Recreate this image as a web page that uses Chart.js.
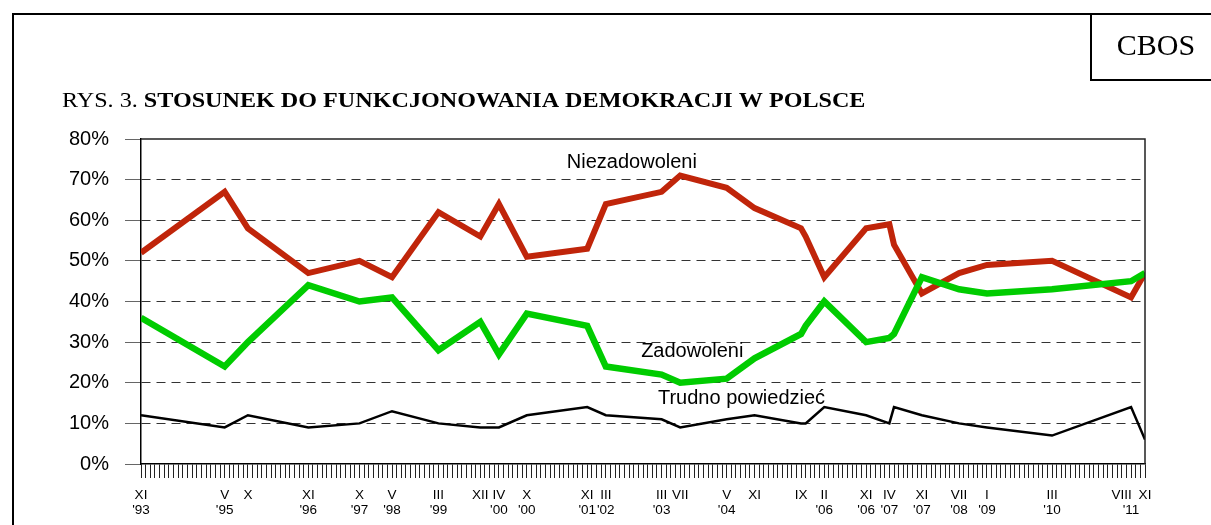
<!DOCTYPE html>
<html>
<head>
<meta charset="utf-8">
<script src="https://cdn.jsdelivr.net/npm/chart.js@4.4.1/dist/chart.umd.min.js"></script>
<style>
  html, body { margin: 0; padding: 0; background: #fff; }
  #wrap { width: 1211px; height: 525px; position: relative; }
</style>
</head>
<body>
<div id="wrap"><canvas id="demokracjaChart"></canvas></div>
<script>
// survey dates as months counted from XI 1993 (= 0)
const surveyMonths = [0, 18, 23, 36, 47, 54, 64, 73, 77, 83, 96, 100, 112, 116, 126, 132, 142, 143, 147, 156, 161, 162, 168, 176, 182, 196, 213, 216];

const niezadowoleni = [52, 67, 58, 47, 50, 46, 62, 56, 64, 51, 53, 64, 67, 71, 68, 63, 58, 56, 46, 58, 59, 54, 42, 47, 49, 50, 41, 47];
const zadowoleni    = [36, 24, 30, 44, 40, 41, 28, 35, 27, 37, 34, 24, 22, 20, 21, 26, 32, 34, 40, 30, 31, 32, 46, 43, 42, 43, 45, 47];
const trudno        = [12,  9, 12,  9, 10, 13, 10,  9,  9, 12, 14, 12, 11,  9, 11, 12, 10, 10, 14, 12, 10, 14, 12, 10,  9,  7, 14,  6];

// x axis labels (month index -> month / year)
const tickMonths = [0, 18, 23, 36, 47, 54, 64, 73, 77, 83, 96, 100, 112, 116, 126, 132, 142, 147, 156, 161, 168, 176, 182, 196, 213, 216];
const tickMonthNames = ['XI', 'V', 'X', 'XI', 'X', 'V', 'III', 'XII', 'IV', 'X', 'XI', 'III', 'III', 'VII', 'V', 'XI', 'IX', 'II', 'XI', 'IV', 'XI', 'VII', 'I', 'III', 'VIII     ', 'XI'];
const tickYears = ["'93", "'95", '', "'96", "'97", "'98", "'99", '', "'00", "'00", "'01", "'02", "'03", '', "'04", '', '', "'06", "'06", "'07", "'07", "'08", "'09", "'10", "'11", ''];

const seriesNames = ['Niezadowoleni', 'Zadowoleni', 'Trudno powiedzieć'];
const seriesLabelAt = [[105.6, 74.3], [118.6, 27.6], [129.2, 16.2]];

const toPoints = (vals) => vals.map((v, i) => ({ x: surveyMonths[i], y: v }));

const SANS = '"Liberation Sans", Arial, sans-serif';
const SERIF = '"Liberation Serif", "Times New Roman", serif';

const decorations = {
    id: 'decorations',
    beforeDraw(chart) {
        const ctx = chart.ctx;
        ctx.save();
        ctx.fillStyle = '#fff';
        ctx.fillRect(0, 0, chart.width, chart.height);
        ctx.restore();
    },
    afterDraw(chart) {
        const { ctx, chartArea: a, scales: { x, y } } = chart;
        ctx.save();
        // outer frame + CBOS box
        ctx.strokeStyle = '#000';
        ctx.lineWidth = 2;
        ctx.beginPath();
        ctx.moveTo(13, chart.height);
        ctx.lineTo(13, 14);
        ctx.lineTo(chart.width, 14);
        ctx.moveTo(1091, 14);
        ctx.lineTo(1091, 80);
        ctx.lineTo(chart.width, 80);
        ctx.stroke();

        ctx.fillStyle = '#000';
        ctx.textBaseline = 'alphabetic';
        ctx.textAlign = 'center';
        ctx.font = '30px ' + SERIF;
        ctx.fillText('CBOS', 1156, 55);

        // title (slightly wide, as in the original)
        ctx.save();
        ctx.translate(62, 107);
        ctx.scale(1.097, 1);
        ctx.textAlign = 'left';
        ctx.font = '22px ' + SERIF;
        ctx.fillText('RYS. 3. ', 0, 0);
        const w = ctx.measureText('RYS. 3. ').width;
        ctx.font = 'bold 22px ' + SERIF;
        ctx.fillText('STOSUNEK DO FUNKCJONOWANIA DEMOKRACJI W POLSCE', w, 0);
        ctx.restore();

        // plot frame top and right
        ctx.strokeStyle = '#222';
        ctx.lineWidth = 1.5;
        ctx.beginPath();
        ctx.moveTo(a.left, a.top);
        ctx.lineTo(a.right, a.top);
        ctx.lineTo(a.right, a.bottom);
        ctx.stroke();

        // series labels
        ctx.font = '20px ' + SANS;
        ctx.textAlign = 'center';
        ctx.textBaseline = 'middle';
        seriesNames.forEach((n, i) => {
            ctx.fillText(n, x.getPixelForValue(seriesLabelAt[i][0]), y.getPixelForValue(seriesLabelAt[i][1]));
        });
        ctx.restore();
    }
};

const ctxDemokracja = document.getElementById('demokracjaChart').getContext('2d');

const demokracjaChart = new Chart(ctxDemokracja, {
    type: 'line',
    data: {
        datasets: [{
            label: 'Zadowoleni',
            data: toPoints(zadowoleni),
            borderColor: '#00cc00',
            borderWidth: 6.5,
            order: 0,
        }, {
            label: 'Niezadowoleni',
            data: toPoints(niezadowoleni),
            borderColor: '#c0250a',
            borderWidth: 6,
            order: 1,
        }, {
            label: 'Trudno powiedzieć',
            data: toPoints(trudno),
            borderColor: '#000',
            borderWidth: 2.5,
            order: 2,
        }]
    },
    options: {
        responsive: true,
        maintainAspectRatio: false,
        animation: false,
        layout: {
            padding: { left: 0, top: 139, right: 66, bottom: 0 },
        },
        elements: {
            point: { radius: 0, hoverRadius: 0 },
            line: { tension: 0, fill: false },
        },
        scales: {
            x: {
                type: 'linear',
                min: 0,
                max: 216,
                afterBuildTicks: (scale) => {
                    const t = [];
                    for (let m = 0; m <= 216; m++) t.push({ value: m });
                    scale.ticks = t;
                },
                afterFit: (scale) => { scale.height = 61; },
                grid: {
                    drawOnChartArea: false,
                    tickLength: 14,
                    tickColor: '#222',
                    tickWidth: 1,
                },
                border: { color: '#000', width: 1.5 },
                ticks: {
                    autoSkip: false,
                    maxRotation: 0,
                    minRotation: 0,
                    padding: 10,
                    color: '#000',
                    font: { family: SANS, size: 13.5, lineHeight: 1.1 },
                    callback: (v) => {
                        const i = tickMonths.indexOf(v);
                        return i < 0 ? '' : [tickMonthNames[i], tickYears[i]];
                    },
                },
            },
            y: {
                min: 0,
                max: 80,
                afterFit: (scale) => { scale.width = 141; },
                grid: {
                    color: (c) => (c.tick && (c.tick.value === 0 || c.tick.value === 80)) ? 'rgba(0,0,0,0)' : '#333',
                    lineWidth: 1,
                    tickLength: 16,
                    tickColor: '#666',
                    tickBorderDash: [],
                },
                border: { color: '#000', width: 1.5, dash: [9, 6] },
                ticks: {
                    stepSize: 10,
                    padding: 16,
                    color: '#000',
                    font: { family: SANS, size: 20 },
                    callback: (v) => v + '%',
                },
            },
        },
        plugins: {
            legend: { display: false },
            tooltip: { enabled: false },
        },
    },
    plugins: [decorations],
});
</script>
</body>
</html>
